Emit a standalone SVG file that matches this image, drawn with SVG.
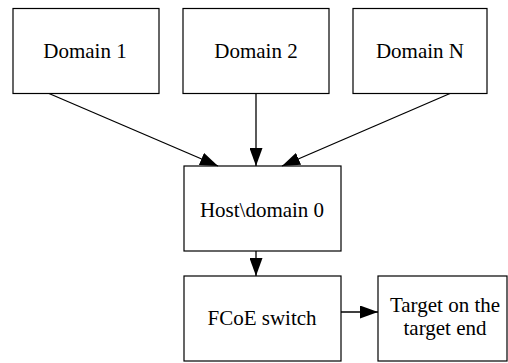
<svg xmlns="http://www.w3.org/2000/svg" width="508" height="363" viewBox="0 0 508 363">
<style>
.box{fill:#fff;stroke:#000;stroke-width:1.2}
.t{font-family:"Liberation Serif","Times New Roman",serif;font-size:21px;fill:#000;text-anchor:middle}
.e{stroke:#000;stroke-width:1.3;fill:none;marker-end:url(#ah)}
</style>
<defs>
<marker id="ah" markerUnits="userSpaceOnUse" markerWidth="19" markerHeight="13" refX="18" refY="6.5" orient="auto">
<path d="M0,0 L18,6.5 L0,13 z" fill="#000"/>
</marker>
</defs>
<rect width="508" height="363" fill="#fff"/>
<g id="d1"><rect class="box" x="13" y="8.5" width="146" height="85"/><text class="t" x="85" y="57.5">Domain 1</text></g>
<g id="d2"><rect class="box" x="183" y="8.5" width="146" height="85"/><text class="t" x="256" y="57.5">Domain 2</text></g>
<g id="dn"><rect class="box" x="353" y="8.5" width="134" height="85"/><text class="t" x="420" y="57.5">Domain N</text></g>
<g id="host"><rect class="box" x="184" y="166" width="157" height="85"/><text class="t" x="262" y="217">Host\domain 0</text></g>
<g id="fcoe"><rect class="box" x="184" y="276" width="157" height="85"/><text class="t" x="262" y="325">FCoE switch</text></g>
<g id="target"><rect class="box" x="378" y="276" width="129" height="85"/><text class="t" x="445" y="312">Target on the</text><text class="t" x="445" y="335">target end</text></g>
<g id="edges">
<line class="e" x1="49" y1="93.5" x2="218" y2="166"/>
<line class="e" x1="256" y1="93.5" x2="256" y2="166"/>
<line class="e" x1="450" y1="93.5" x2="282" y2="166"/>
<line class="e" x1="256" y1="251" x2="256" y2="276"/>
<line class="e" x1="341" y1="312" x2="378" y2="312"/>
</g>
</svg>
